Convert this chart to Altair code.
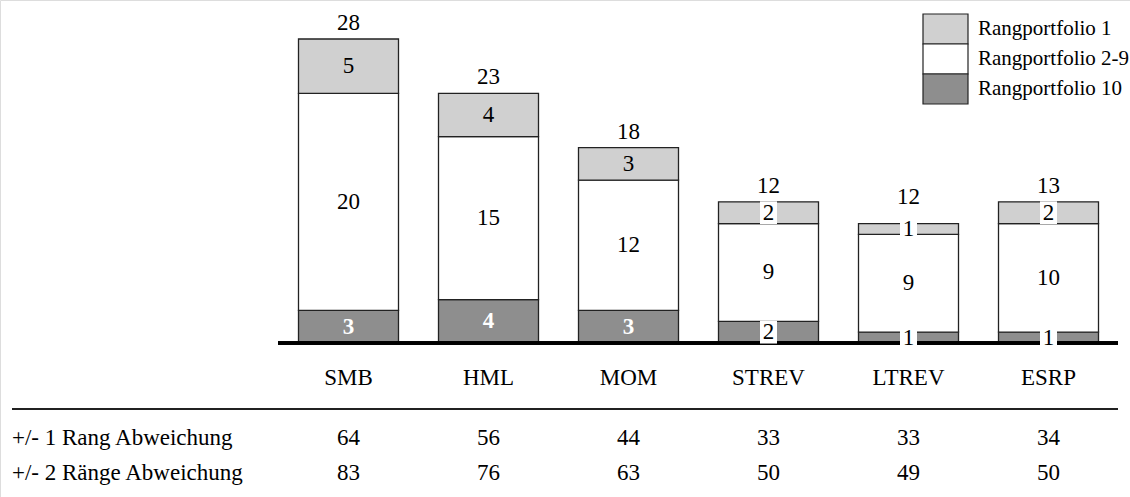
import altair as alt
import pandas as pd

# Rank portfolio counts per factor (bottom to top: 10, 2-9, 1)
categories = ["SMB", "HML", "MOM", "STREV", "LTREV", "ESRP"]
rank_1 = [5, 4, 3, 2, 1, 2]
rank_2_9 = [20, 15, 12, 9, 9, 10]
rank_10 = [3, 4, 3, 2, 1, 1]
totals = [28, 23, 18, 12, 12, 13]

# Table below the bars
dev_1 = [64, 56, 44, 33, 33, 34]
dev_2 = [83, 76, 63, 50, 49, 50]
row_labels = ["+/- 1 Rang Abweichung", "+/- 2 Ränge Abweichung"]

series = ["Rangportfolio 1", "Rangportfolio 2-9", "Rangportfolio 10"]
colors = ["#d0d0d0", "#ffffff", "#8e8e8e"]

FONT = "Liberation Serif, Times New Roman, Times, serif"
FS = 23

rows = []
for i, cat in enumerate(categories):
    base = 0
    for name, vals in (("Rangportfolio 10", rank_10),
                       ("Rangportfolio 2-9", rank_2_9),
                       ("Rangportfolio 1", rank_1)):
        v = vals[i]
        rows.append({
            "cat": cat, "series": name, "value": v,
            "y0": base, "y1": base + v, "mid": base + v / 2,
            "box_lo": base + v / 2 - 1.05, "box_hi": base + v / 2 + 1.05,
            "style": ("boxed" if v <= 2 and name != "Rangportfolio 2-9"
                      else ("white" if name == "Rangportfolio 10" else "plain")),
        })
        base += v
seg = pd.DataFrame(rows)

tops = seg.groupby("cat", sort=False)["y1"].max().reindex(categories).tolist()
tot = pd.DataFrame({"cat": categories, "top": tops, "total": totals})
# total label sits above the stack, or at its stated value when that is higher
tot["label_y"] = tot[["top", "total"]].max(axis=1)
table = pd.DataFrame({"cat": categories, "d1": dev_1, "d2": dev_2})
legend_df = pd.DataFrame({"series": series})
names_df = pd.DataFrame({"label": row_labels})

x_scale = alt.Scale(domain=categories, range=[278.5, 1118.5],
                    paddingInner=2 / 7, paddingOuter=1 / 7)
y_scale = alt.Scale(domain=[0, 28], range=[343, 39], nice=False, zero=False)
fill_scale = alt.Scale(domain=series, range=colors)
X = alt.X("cat:N", scale=x_scale, axis=None, sort=categories)


def Y(field):
    return alt.Y(field, scale=y_scale, axis=None)


bars = alt.Chart(seg).mark_bar(stroke="#222", strokeWidth=1.3).encode(
    x=X, y=Y("y1:Q"), y2="y0:Q",
    fill=alt.Fill("series:N", scale=fill_scale, legend=None),
)

baseline = alt.Chart(tot).mark_rule(color="black", strokeWidth=3).encode(
    x=alt.value(278), x2=alt.value(1118), y=alt.value(343)
)

boxes = alt.Chart(seg).transform_filter(alt.datum.style == "boxed").mark_bar(
    width=17, color="white"
).encode(x=X, y=Y("box_hi:Q"), y2="box_lo:Q")

plain_lbl = alt.Chart(seg).transform_filter(alt.datum.style != "white").mark_text(
    font=FONT, fontSize=FS, color="black", baseline="middle"
).encode(x=X, y=Y("mid:Q"), text="value:Q")

white_lbl = alt.Chart(seg).transform_filter(alt.datum.style == "white").mark_text(
    font=FONT, fontSize=FS, color="white", fontWeight="bold", baseline="middle"
).encode(x=X, y=Y("mid:Q"), text="value:Q")

total_lbl = alt.Chart(tot).mark_text(
    font=FONT, fontSize=FS, color="black", baseline="middle", dy=-16
).encode(x=X, y=Y("label_y:Q"), text="total:Q")

cat_lbl = alt.Chart(tot).mark_text(
    font=FONT, fontSize=FS, color="black", baseline="middle"
).encode(x=X, y=alt.value(378), text="cat:N")

table_rule = alt.Chart(tot).mark_rule(color="#222", strokeWidth=1.6).encode(
    x=alt.value(12), x2=alt.value(1118), y=alt.value(409)
)

row1 = alt.Chart(table).mark_text(
    font=FONT, fontSize=FS, color="black", baseline="middle"
).encode(x=X, y=alt.value(438), text="d1:Q")

row2 = alt.Chart(table).mark_text(
    font=FONT, fontSize=FS, color="black", baseline="middle"
).encode(x=X, y=alt.value(473), text="d2:Q")

names = alt.Chart(names_df).mark_text(
    font=FONT, fontSize=FS, color="black", baseline="middle", align="left"
).encode(
    x=alt.value(12),
    y=alt.Y("label:N", sort=row_labels, axis=None,
            scale=alt.Scale(domain=row_labels, range=[420.5, 490.5],
                            paddingInner=0, paddingOuter=0)),
    text="label:N",
)

# Legend: stacked boxes with labels in the upper right corner
leg_y = alt.Y("series:N", sort=series, axis=None,
              scale=alt.Scale(domain=series, range=[14, 104],
                              paddingInner=0, paddingOuter=0))
leg_boxes = alt.Chart(legend_df).mark_rect(stroke="#222", strokeWidth=1.2).encode(
    x=alt.value(923), x2=alt.value(968), y=leg_y,
    fill=alt.Fill("series:N", scale=fill_scale, legend=None),
)
leg_text = alt.Chart(legend_df).mark_text(
    font=FONT, fontSize=21, color="black", baseline="middle", align="left"
).encode(x=alt.value(978), y=leg_y, text="series:N")

chart = alt.layer(
    bars, baseline, boxes, plain_lbl, white_lbl, total_lbl,
    cat_lbl, table_rule, row1, row2, names, leg_boxes, leg_text,
).resolve_scale(y="independent").properties(
    width=1130, height=497,
    autosize=alt.AutoSizeParams(type="none"), padding=0,
).configure_view(stroke=None).configure(background="white")

chart.save("out.html", embed_options={"renderer": "svg", "actions": False})
